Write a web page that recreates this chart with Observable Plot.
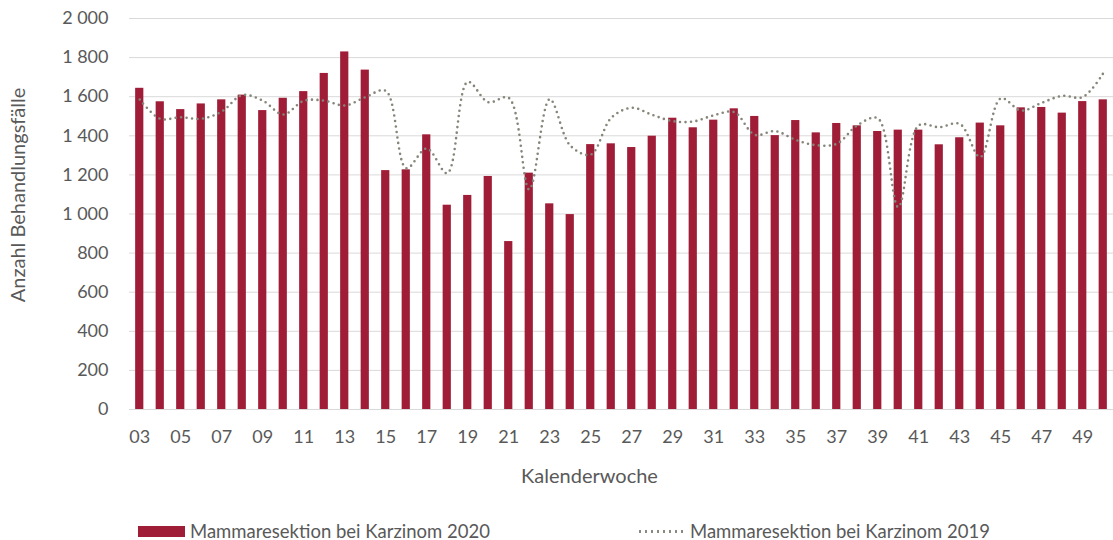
<!DOCTYPE html>
<html>
<head>
<meta charset="utf-8">
<script src="https://cdn.jsdelivr.net/npm/d3@7"></script>
<script src="https://cdn.jsdelivr.net/npm/@observablehq/plot@0.6"></script>
<style>
  body { margin: 0; background: #fff; font-family: Lato, "Open Sans", sans-serif; color: #595959; }
  #wrap { position: relative; width: 1113px; height: 540px; }
  .legend { position: absolute; top: 520px; height: 22px; display: flex; align-items: center; font-size: 18.5px; color: #595959; white-space: nowrap; }
  .sw-bar { width: 47px; height: 11px; background: #a01d37; margin-right: 5px; }
  .sw-dot { width: 48px; height: 3px; margin-right: 5px; background-image: radial-gradient(circle, #8a8a80 1.3px, transparent 1.5px); background-size: 6px 3px; background-repeat: repeat-x; }
</style>
</head>
<body>
<div id="wrap">
  <div id="chart"></div>
  <div class="legend" style="left:138px"><div class="sw-bar"></div><span>Mammaresektion bei Karzinom 2020</span></div>
  <div class="legend" style="left:637px"><div class="sw-dot"></div><span>Mammaresektion bei Karzinom 2019</span></div>
</div>
<script>
const weeks = ["03","04","05","06","07","08","09","10","11","12","13","14","15","16","17","18",
  "19","20","21","22","23","24","25","26","27","28","29","30","31","32","33","34",
  "35","36","37","38","39","40","41","42","43","44","45","46","47","48","49","50"];
const values2020 = [1643,1574,1534,1563,1584,1608,1529,1592,1626,1719,1829,1736,1222,1226,1405,1045,
  1095,1192,859,1209,1052,997,1355,1359,1340,1398,1490,1441,1480,1538,1499,1401,
  1478,1415,1463,1451,1422,1429,1429,1354,1390,1465,1451,1543,1545,1516,1575,1584];
const values2019 = [1586,1487,1495,1487,1524,1608,1580,1509,1579,1580,1555,1597,1630,1234,1335,1209,
  1676,1572,1594,1125,1587,1350,1304,1492,1543,1507,1475,1473,1505,1521,1405,1424,
  1379,1352,1359,1453,1490,1035,1453,1444,1461,1291,1591,1529,1569,1604,1598,1720];
const yTicks = [0,200,400,600,800,1000,1200,1400,1600,1800,2000];
const xTickLabels = weeks.filter((w, i) => i % 2 === 0);

const rows = weeks.map((w, i) => ({week: w, v2020: values2020[i], v2019: values2019[i]}));
const fmt = d3.formatLocale({decimal: ",", thousands: " ", grouping: [3], currency: ["", ""]}).format(",d");

const svgH = 510, mTop = 18, zeroY = 409;
const chart = Plot.plot({
  width: 1113,
  height: svgH,
  marginTop: mTop,
  marginBottom: svgH - zeroY,
  marginLeft: 129,
  marginRight: 0,
  style: {fontFamily: "Lato, 'Open Sans', sans-serif", fontSize: "18px", color: "#595959", background: "#fff"},
  x: {type: "band", domain: weeks, paddingInner: 0.6, paddingOuter: 0.3, round: false, label: null},
  y: {domain: [0, 2000], label: null},
  marks: [
    Plot.ruleY(yTicks, {stroke: "#d9d9d9", strokeWidth: 1}),
    Plot.barY(rows, {x: "week", y: "v2020", fill: "#a01d37"}),
    Plot.lineY(rows, {x: "week", y: "v2019", stroke: "#85857a", strokeWidth: 2.6, strokeDasharray: "0 5.5", strokeLinecap: "round", curve: "catmull-rom"}),
    Plot.axisY({ticks: yTicks, tickFormat: fmt, tickSize: 0, tickPadding: 21, label: null, fill: "#595959"}),
    Plot.axisX({ticks: xTickLabels, tickSize: 0, tickPadding: 21, label: null, fill: "#595959"}),
    Plot.text(["Kalenderwoche"], {frameAnchor: "bottom", dx: -32, dy: 67, lineAnchor: "middle", textAnchor: "middle", fill: "#595959", fontSize: 20}),
    Plot.text(["Anzahl Behandlungsfälle"], {frameAnchor: "left", dx: -111, dy: -19, rotate: -90, lineAnchor: "middle", textAnchor: "middle", fill: "#595959", fontSize: 20})
  ]
});
document.getElementById("chart").appendChild(chart);
</script>
</body>
</html>
